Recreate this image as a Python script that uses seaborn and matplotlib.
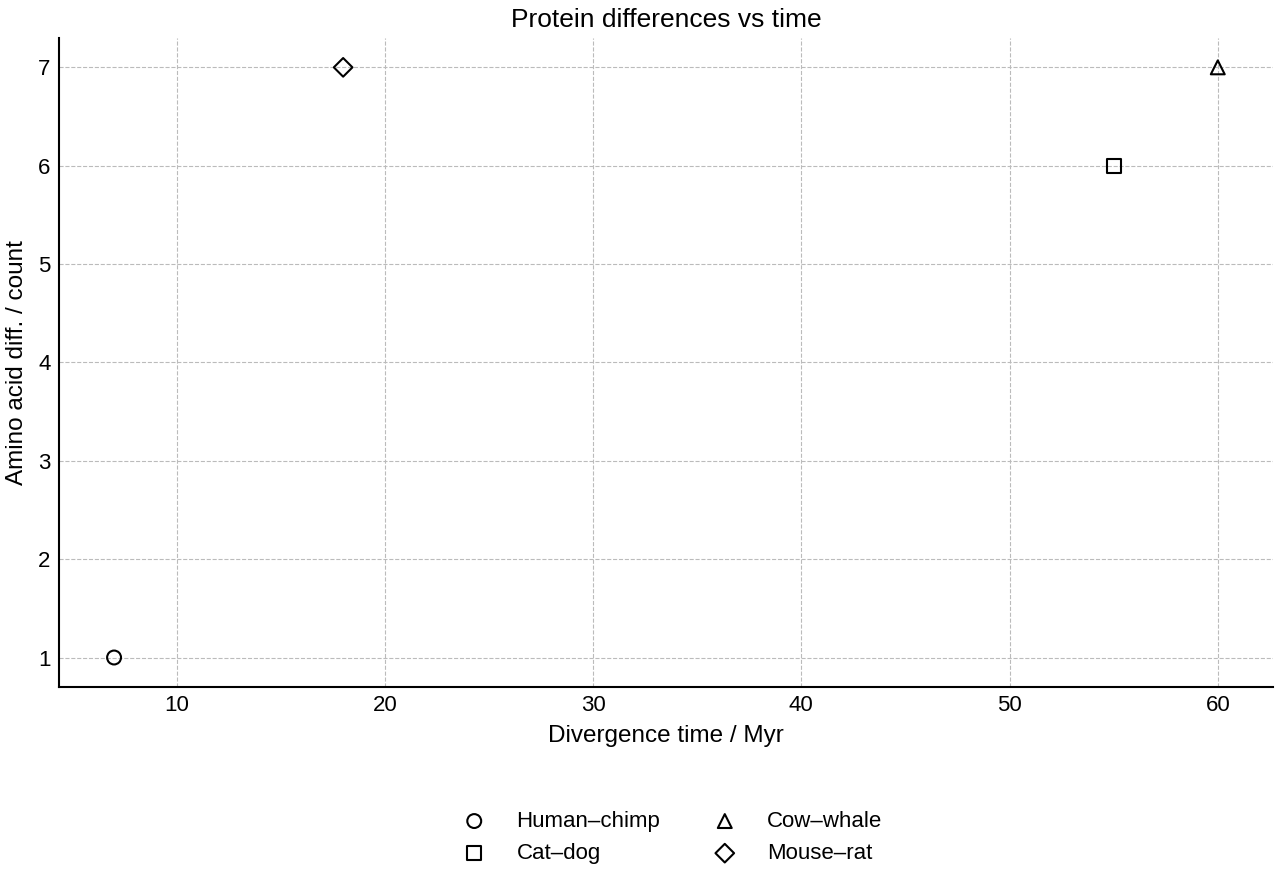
import matplotlib
matplotlib.use("Agg")
import matplotlib.pyplot as plt
import seaborn as sns

# Data
pairs = ["Human–chimp", "Cat–dog", "Cow–whale", "Mouse–rat"]
divergence_myr = [7, 55, 60, 18]
aa_diff = [1, 6, 7, 7]
marker_shapes = ["o", "s", "^", "D"]

sns.set_style("white")
plt.rcParams['font.family'] = ['Liberation Sans', 'DejaVu Sans']
plt.rcParams['text.color'] = 'black'
plt.rcParams['axes.labelcolor'] = 'black'

fig = plt.figure(figsize=(12.8, 8.8), dpi=100)
ax = fig.add_axes([0.046, 0.2193, 0.9485, 0.7377])

for name, t, d, m in zip(pairs, divergence_myr, aa_diff, marker_shapes):
    size = 90 if m == "D" else 100
    sns.scatterplot(x=[t], y=[d], marker=m, s=size, facecolor="none",
                    edgecolor="black", linewidth=1.5, label=name, ax=ax, zorder=3)

ax.grid(True, linestyle="--", color="#bbbbbb", linewidth=0.8)
ax.set_axisbelow(True)
sns.despine(ax=ax)
for side in ["left", "bottom"]:
    ax.spines[side].set_color("black")
    ax.spines[side].set_linewidth(1.5)

ax.tick_params(direction="in", length=5, width=1.3, labelsize=16, colors="black", pad=6)
ax.set_xticks([10, 20, 30, 40, 50, 60])
ax.set_yticks([1, 2, 3, 4, 5, 6, 7])

ax.set_xlabel("Divergence time / Myr", fontsize=17.5, labelpad=6)
ax.set_ylabel("Amino acid diff. / count", fontsize=17.5, labelpad=7)
ax.set_title("Protein differences vs time", fontsize=19, pad=8)

ax.legend(loc="upper center", bbox_to_anchor=(0.501, -0.16), ncol=2, frameon=False,
          fontsize=16, handletextpad=0.9, columnspacing=1.9)

fig.savefig("out.png", dpi=100)
